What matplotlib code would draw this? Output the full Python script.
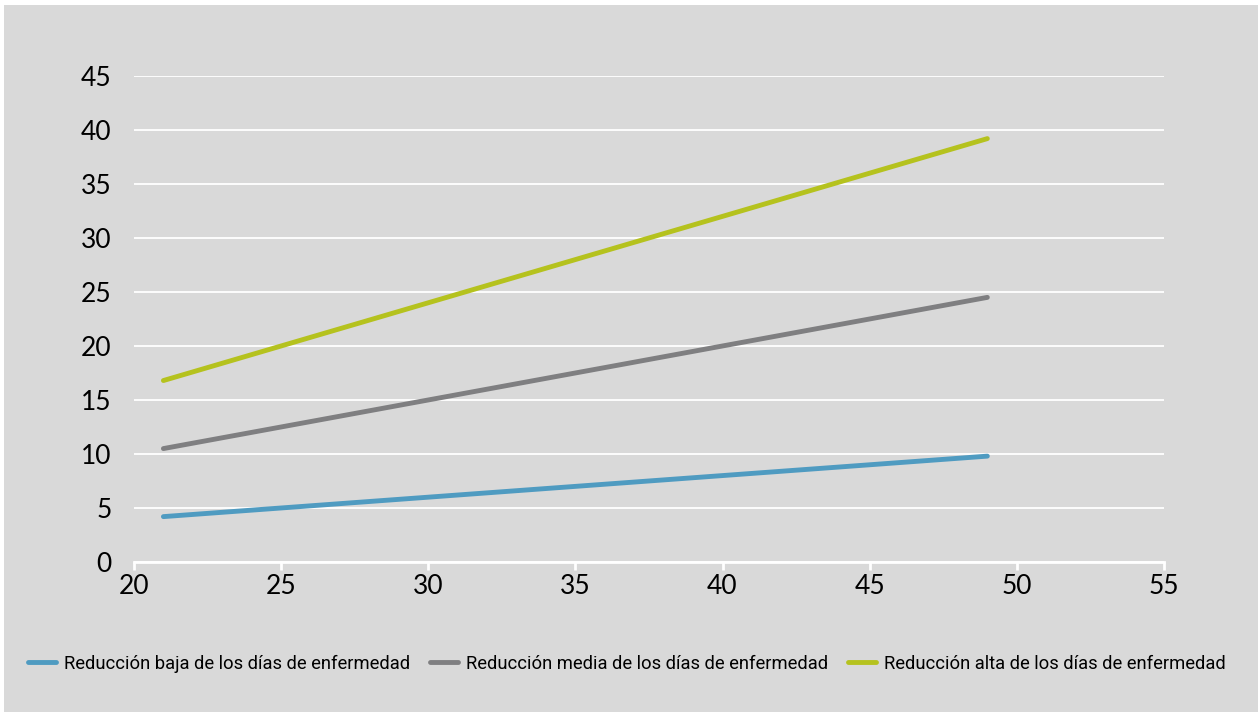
import matplotlib.pyplot as plt
from matplotlib.patches import Rectangle

# data
edad = [21, 49]
baja = [4.2, 9.8]
media = [10.5, 24.5]
alta = [16.8, 39.2]

series_labels = [
    "Reducción baja de los días de enfermedad",
    "Reducción media de los días de enfermedad",
    "Reducción alta de los días de enfermedad",
]
colores = ["#4f9bc1", "#7f7f81", "#b5c21e"]

x_ticks = [20, 25, 30, 35, 40, 45, 50, 55]
y_ticks = [0, 5, 10, 15, 20, 25, 30, 35, 40, 45]

bg = "#d9d9d9"
plt.rcParams['font.family'] = ['Lato', 'DejaVu Sans']

fig = plt.figure(figsize=(12.58, 7.12), dpi=100)
fig.patch.set_facecolor("white")
fig.patches.append(Rectangle((4 / 1258, 0), 1 - 4 / 1258, 1 - 5 / 712,
                             transform=fig.transFigure, facecolor=bg,
                             edgecolor="none", zorder=-10))

ax = fig.add_axes([0.1065, 0.2107, 0.8187, 0.6826])
ax.set_facecolor(bg)

for ys, lab, c in zip([baja, media, alta], series_labels, colores):
    ax.plot(edad, ys, color=c, lw=3.5, label=lab, solid_capstyle="round")

ax.set_xlim(20, 55)
ax.set_ylim(0, 45)
ax.set_xticks(x_ticks)
ax.set_yticks(y_ticks)
ax.yaxis.grid(True, color="white", lw=1.3)
ax.set_axisbelow(True)

for s in ["top", "right", "left"]:
    ax.spines[s].set_visible(False)
ax.spines["bottom"].set_color("white")
ax.spines["bottom"].set_linewidth(2)

ax.tick_params(axis="x", colors="white", length=6, width=2, labelcolor="black",
               labelsize=19, pad=3)
ax.tick_params(axis="y", length=0, labelcolor="black", labelsize=19, pad=16)

leg = fig.legend(loc="center", bbox_to_anchor=(0.4985, 0.068), ncol=3, frameon=False,
                 prop={'family': ['Roboto', 'DejaVu Sans'], 'size': 13.2},
                 handlelength=1.5, columnspacing=1.1, handletextpad=0.45)
for h in leg.get_lines():
    h.set_linewidth(3.5)

fig.savefig("out.png", dpi=100, facecolor=fig.get_facecolor())
